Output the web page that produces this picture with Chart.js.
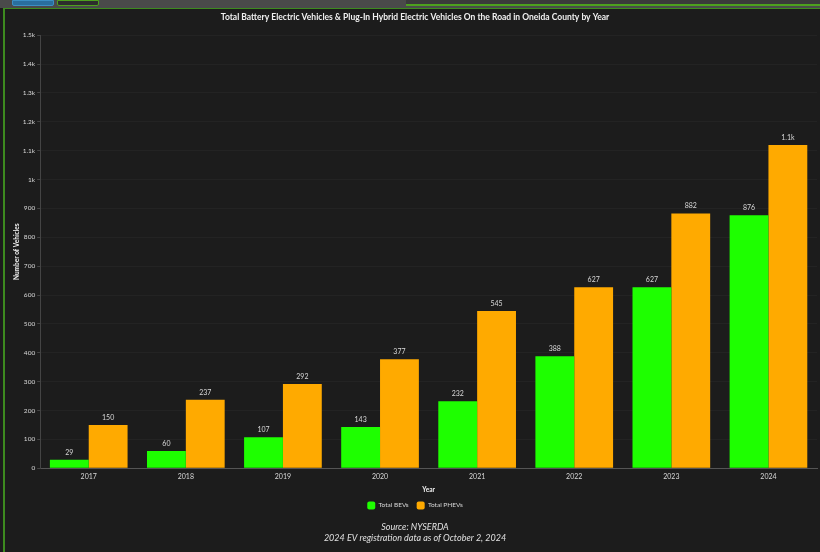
<!DOCTYPE html>
<html>
<head>
<meta charset="utf-8">
<script src="https://cdn.jsdelivr.net/npm/chart.js@4.4.1/dist/chart.umd.min.js"></script>
<style>
  html, body { margin: 0; padding: 0; background: #1c1c1c; }
  #page { position: relative; width: 820px; height: 552px; overflow: hidden; background: #1c1c1c; }
  #topbar { position: absolute; left: 0; top: 0; width: 820px; height: 8px; background: #4a4a4a; }
  .btn { position: absolute; top: 0; height: 4px; border-radius: 0 0 2px 2px; }
  #panel { position: absolute; left: 3px; top: 8px; width: 830px; height: 560px;
           border-left: 2px solid #3d8a1f; border-top: 1px solid #3d8a1f; background: #1c1c1c; }
  #rightbox { position: absolute; left: 406px; top: 0; width: 420px; height: 4px;
              border-bottom: 2px solid #4da01e; background: #3a3a3a; }
  canvas { position: absolute; left: 0; top: 0; }
</style>
</head>
<body>
<div id="page">
  <div id="topbar">
    <div class="btn" style="left:12px;width:40px;background:#2a6f9e;border:1px solid #3b8fc4;"></div>
    <div class="btn" style="left:57px;width:40px;background:#2d2d2d;border:1px solid #4da01e;"></div>
    <div id="rightbox"></div>
  </div>
  <div id="panel"></div>
  <canvas id="evChart" width="820" height="552"></canvas>
</div>
<script>
/* ===============================
   DATA
================================ */
const years = ["2017", "2018", "2019", "2020", "2021", "2022", "2023", "2024"];
const totalBEVs = [29, 60, 107, 143, 232, 388, 627, 876];
const totalPHEVs = [150, 237, 292, 377, 545, 627, 882, 1120];
const yTicks = [0, 100, 200, 300, 400, 500, 600, 700, 800, 900, 1000, 1100, 1200, 1300, 1400, 1500];

const FONT = "Lato, 'Open Sans', sans-serif";
const TEXT = "#d8d8d8";

function shortNum(v) {
  if (v >= 1000) return (Math.round(v / 100) / 10) + "k";
  return String(v);
}

/* ===============================
   VALUE LABELS ABOVE BARS
================================ */
const barLabels = {
  id: "barLabels",
  afterDatasetsDraw(chart) {
    const ctx = chart.ctx;
    ctx.save();
    ctx.font = "7px " + FONT;
    ctx.fillStyle = TEXT;
    ctx.textAlign = "center";
    ctx.textBaseline = "bottom";
    chart.data.datasets.forEach((ds, i) => {
      chart.getDatasetMeta(i).data.forEach((bar, j) => {
        ctx.fillText(shortNum(ds.data[j]), bar.x, bar.y - 4);
      });
    });
    ctx.restore();
  }
};

const ctx = document.getElementById("evChart").getContext("2d");

new Chart(ctx, {
  type: "bar",
  data: {
    labels: years,
    datasets: [
      {
        label: "Total BEVs",
        data: totalBEVs,
        backgroundColor: "#1eff00",
        borderWidth: 0
      },
      {
        label: "Total PHEVs",
        data: totalPHEVs,
        backgroundColor: "#ffaa00",
        borderWidth: 0
      }
    ]
  },
  options: {
    responsive: false,
    animation: false,
    layout: { padding: { left: 13, right: 3, top: 10, bottom: 9 } },
    datasets: {
      bar: { categoryPercentage: 0.8, barPercentage: 1.0 }
    },
    plugins: {
      title: {
        display: true,
        text: "Total Battery Electric Vehicles & Plug-In Hybrid Electric Vehicles On the Road in Oneida County by Year",
        color: "#f0f0f0",
        font: { family: FONT, size: 8.5, weight: "bold" },
        padding: { top: 2, bottom: 13 }
      },
      subtitle: {
        display: true,
        position: "bottom",
        text: ["Source: NYSERDA", "2024 EV registration data as of October 2, 2024"],
        color: "#e0e0e0",
        font: { family: FONT, size: 9, style: "italic" },
        padding: { top: 2, bottom: 0 }
      },
      legend: {
        position: "bottom",
        labels: {
          color: TEXT,
          font: { family: FONT, size: 6.5 },
          boxWidth: 8,
          boxHeight: 8,
          useBorderRadius: true,
          borderRadius: 2,
          padding: 8
        }
      },
      tooltip: { enabled: false }
    },
    scales: {
      x: {
        grid: { drawOnChartArea: false, drawTicks: false },
        border: { color: "#555" },
        ticks: { color: TEXT, font: { family: FONT, size: 7 }, padding: 4 },
        title: {
          display: true,
          text: "Year",
          color: "#f0f0f0",
          font: { family: FONT, size: 6.5, weight: "bold" },
          padding: { top: 1, bottom: 0 }
        }
      },
      y: {
        min: 0,
        max: 1500,
        afterBuildTicks: scale => {
          scale.ticks = yTicks.map(v => ({ value: v }));
        },
        grid: { color: "rgba(255,255,255,0.03)", tickLength: 3, tickColor: "#444" },
        border: { color: "#444" },
        ticks: {
          color: TEXT,
          font: { family: FONT, size: 6.5 },
          padding: 2,
          callback: v => shortNum(v)
        },
        title: {
          display: true,
          text: "Number of Vehicles",
          color: "#f0f0f0",
          font: { family: FONT, size: 6.5, weight: "bold" },
          padding: { top: 0, bottom: 0 }
        }
      }
    }
  },
  plugins: [barLabels]
});
</script>
</body>
</html>
